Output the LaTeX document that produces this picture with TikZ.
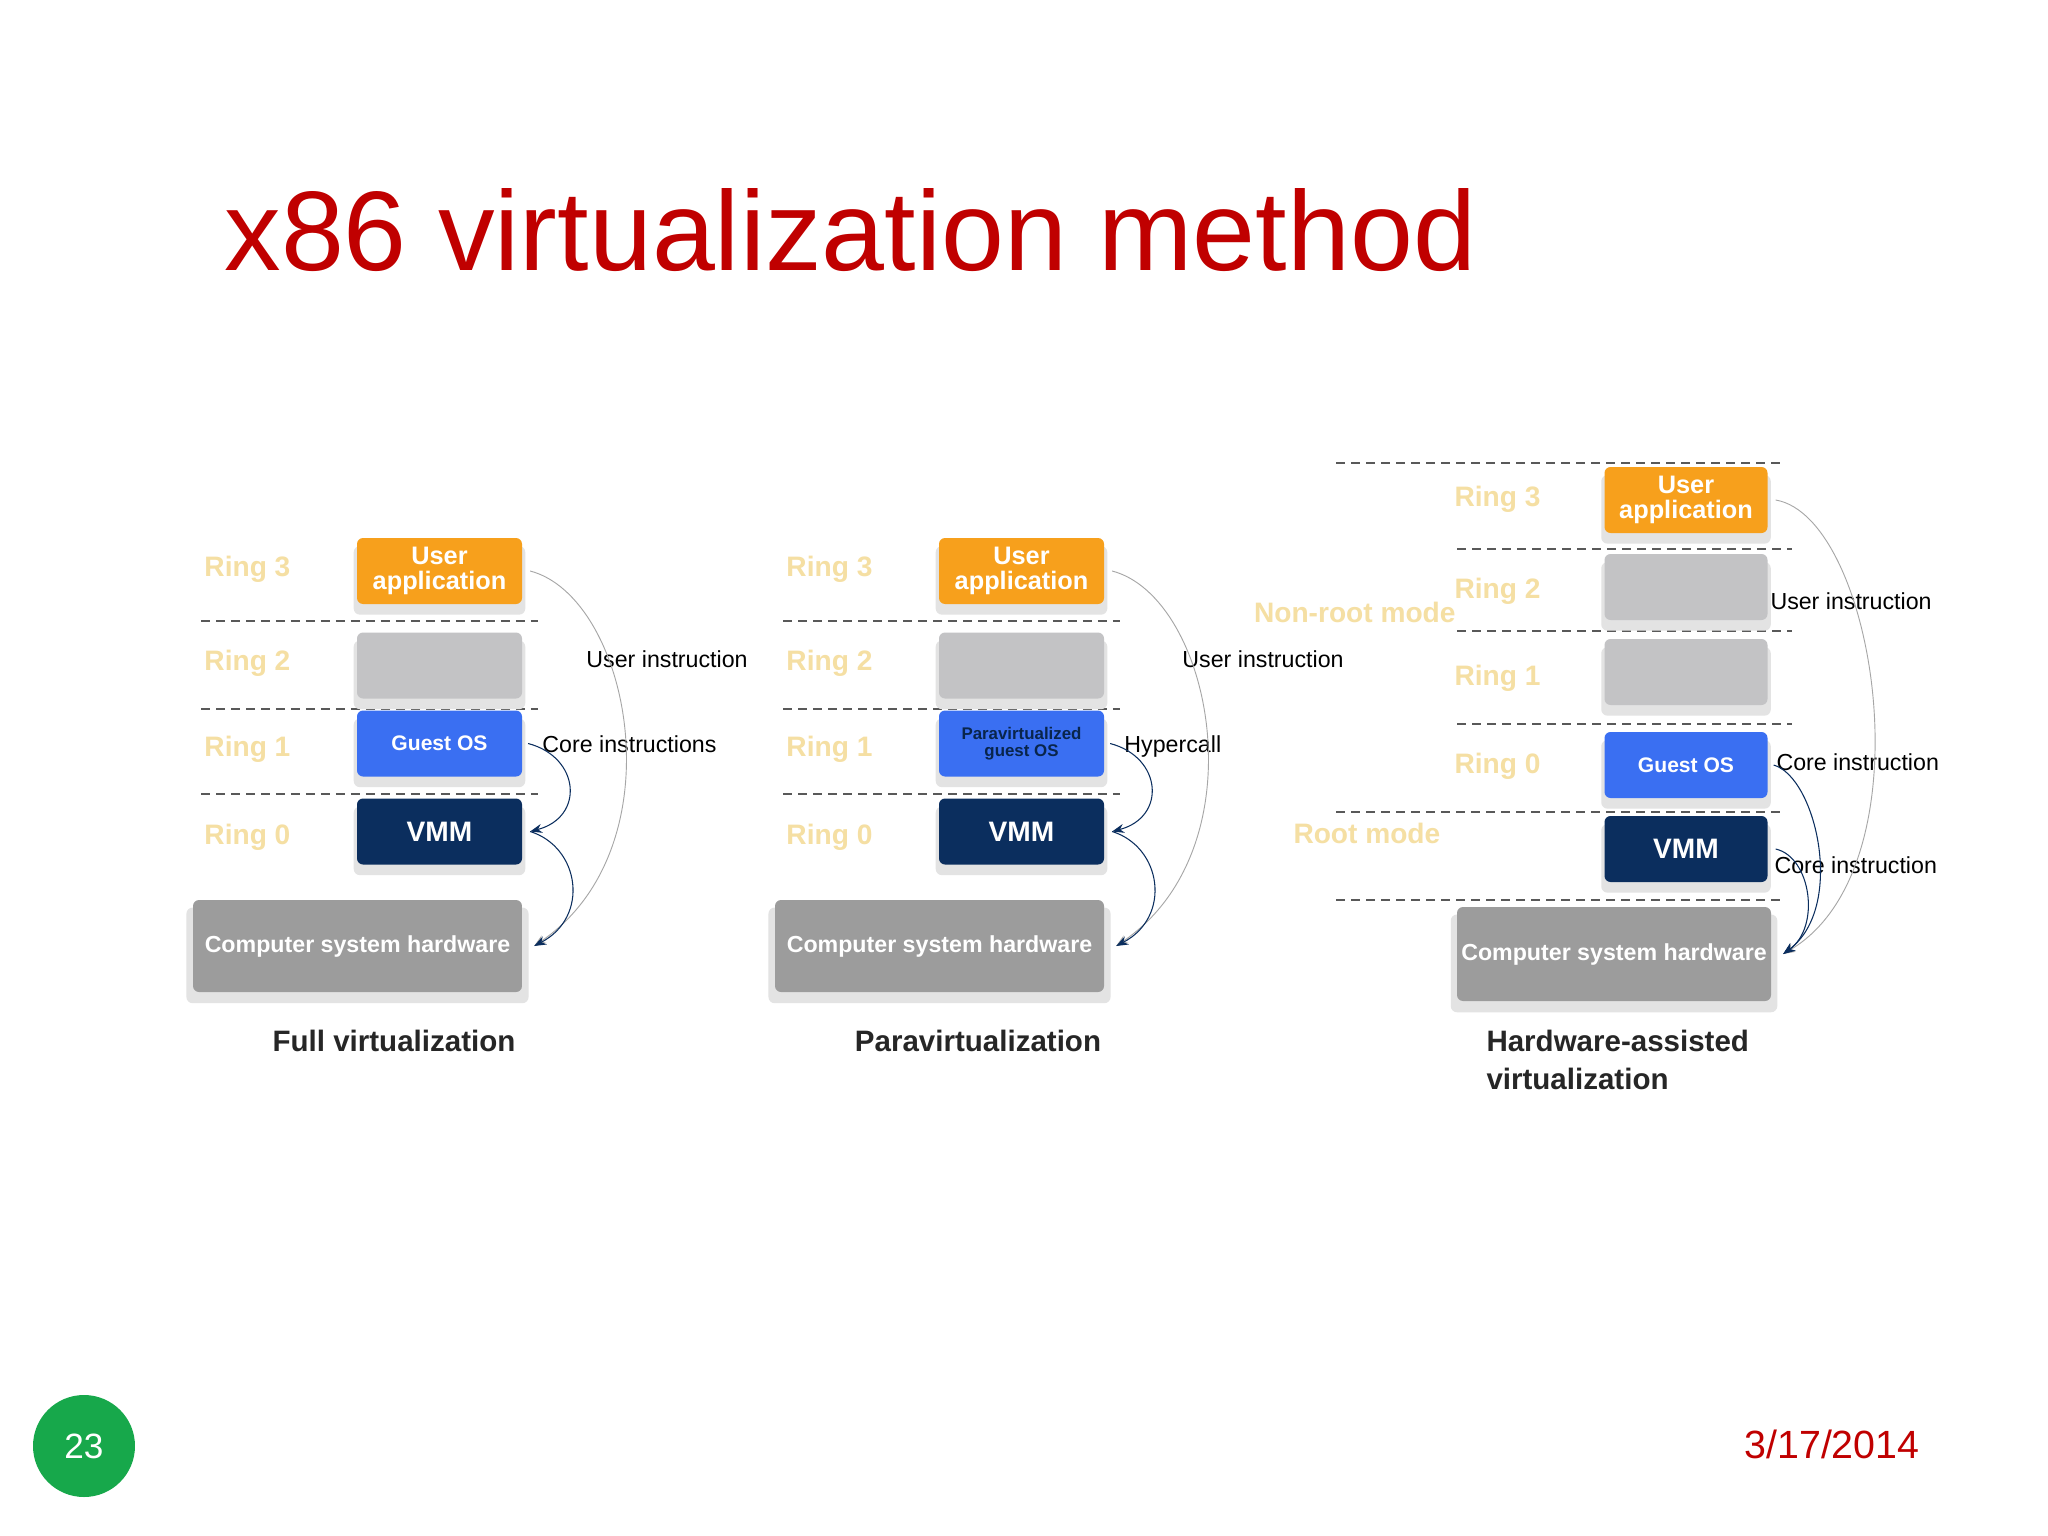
\documentclass[tikz,border=0pt]{standalone}
\usepackage{fontspec}
\setmainfont{Liberation Sans}
\usetikzlibrary{shadows,arrows.meta}
\newcommand{\fsz}[1]{\fontsize{#1pt}{#1pt}\selectfont}
\definecolor{ttl}{HTML}{C00000}
\definecolor{orng}{HTML}{F7A01C}
\definecolor{gbox}{HTML}{C3C3C5}
\definecolor{bbox}{HTML}{3A6FF2}
\definecolor{nbox}{HTML}{0B2E5E}
\definecolor{hbox}{HTML}{9C9C9C}
\definecolor{ringc}{HTML}{F5DFA3}
\definecolor{pgreen}{HTML}{17A84B}
\begin{document}
\begin{tikzpicture}[x=0.05cm,y=-0.05cm,
  layer/.style={rounded corners=0.3cm,inner sep=0,text=white,font=\fsz{36}\bfseries,align=center,
     general shadow={fill=gray!22,shadow yshift=-0.45cm,shadow scale=1.04,rounded corners=0.4cm}},
  small/.style={layer,minimum width=8.25cm,minimum height=3.3cm},
  smallb/.style={layer,minimum width=8.15cm,minimum height=3.3cm},
  ring/.style={anchor=west,text=ringc,font=\fsz{40}\bfseries},
  lbl/.style={anchor=west,font=\fsz{33}},
  captext/.style={font=\fsz{42}\bfseries,text=black!85},
  dsh/.style={gray!70!black,line width=1.6pt,dash pattern=on 0.45cm off 0.3cm},
  ucurve/.style={gray!70,line width=1.3pt,-{Stealth[length=0.6cm,width=0.45cm]}},
  ccurve/.style={nbox,line width=1.5pt,-{Stealth[length=0.6cm,width=0.45cm]}}]
\useasboundingbox (0,0) rectangle (2048,1536);
\fill[white] (0,0) rectangle (2048,1536);
\node[anchor=base west,text=ttl,font=\fsz{161}] (title) at (222,270) {x86 virtualization method};
% ---------- Full virtualization
\draw[dsh] (201,621) -- (538,621);
\draw[dsh] (201,709) -- (538,709);
\draw[dsh] (201,794) -- (538,794);
\node[small,fill=orng] (ua1) at (439.5,571) {User\\application};
\node[small,fill=gbox] (ra1) at (439.5,665.5) {};
\node[small,fill=bbox,font=\fsz{30}\bfseries] (go1) at (439.5,743.5) {Guest OS};
\node[small,fill=nbox,font=\fsz{40}\bfseries] (vm1) at (439.5,831.5) {VMM};
\node[layer,fill=hbox,minimum width=16.45cm,minimum height=4.6cm,font=\fsz{33}\bfseries] (hw1) at (357.5,946) {Computer system hardware};
\node[ring] (r31) at (202,569) {Ring 3};
\node[ring] (r21) at (202,663) {Ring 2};
\node[ring] (r11) at (202,749) {Ring 1};
\node[ring] (r01) at (202,837) {Ring 0};
\node[lbl] (ui1) at (584,659) {User instruction};
\node[lbl] (ci1) at (540,744) {Core instructions};
\node[captext] (c1) at (394,1041) {Full virtualization};
\draw[ucurve] ([xshift=0.4cm]ua1.east) .. controls (630,597) and (680,847) .. ([xshift=0.6cm]hw1.east);
\draw[ccurve] ([xshift=0.3cm]go1.east) .. controls (580,757) and (585,817) .. ([xshift=0.4cm]vm1.east);
\draw[ccurve] ([xshift=0.4cm]vm1.east) .. controls (580,847) and (590,917) .. ([xshift=0.6cm]hw1.east);
% ---------- Paravirtualization
\draw[dsh] (783,621) -- (1120,621);
\draw[dsh] (783,709) -- (1120,709);
\draw[dsh] (783,794) -- (1120,794);
\node[small,fill=orng] (ua2) at (1021.5,571) {User\\application};
\node[small,fill=gbox] (ra2) at (1021.5,665.5) {};
\node[small,fill=bbox,text=nbox!80!black,font=\fsz{24}\bfseries] (go2) at (1021.5,743.5) {Paravirtualized\\guest OS};
\node[small,fill=nbox,font=\fsz{40}\bfseries] (vm2) at (1021.5,831.5) {VMM};
\node[layer,fill=hbox,minimum width=16.45cm,minimum height=4.6cm,font=\fsz{33}\bfseries] (hw2) at (939.5,946) {Computer system hardware};
\node[ring] (r32) at (784,569) {Ring 3};
\node[ring] (r22) at (784,663) {Ring 2};
\node[ring] (r12) at (784,749) {Ring 1};
\node[ring] (r02) at (784,837) {Ring 0};
\node[lbl] (ui2) at (1180,659) {User instruction};
\node[lbl] (hc2) at (1122,746) {Hypercall};
\node[captext] (c2) at (978,1041) {Paravirtualization};
\draw[ucurve] ([xshift=0.4cm]ua2.east) .. controls (1212,597) and (1262,847) .. ([xshift=0.6cm]hw2.east);
\draw[ccurve] ([xshift=0.3cm]go2.east) .. controls (1162,757) and (1167,817) .. ([xshift=0.4cm]vm2.east);
\draw[ccurve] ([xshift=0.4cm]vm2.east) .. controls (1162,847) and (1172,917) .. ([xshift=0.6cm]hw2.east);
% ---------- Hardware-assisted
\draw[dsh] (1336,463) -- (1785,463);
\draw[dsh] (1457,549) -- (1792,549);
\draw[dsh] (1457,631) -- (1792,631);
\draw[dsh] (1457,724) -- (1792,724);
\draw[dsh] (1336,812) -- (1785,812);
\draw[dsh] (1336,900) -- (1785,900);
\node[smallb,fill=orng] (ua3) at (1686,500) {User\\application};
\node[smallb,fill=gbox] (ga3) at (1686,587) {};
\node[smallb,fill=gbox] (gb3) at (1686,672) {};
\node[smallb,fill=bbox,font=\fsz{30}\bfseries] (go3) at (1686,765) {Guest OS};
\node[smallb,fill=nbox,font=\fsz{40}\bfseries] (vm3) at (1686,849) {VMM};
\node[layer,fill=hbox,minimum width=15.7cm,minimum height=4.7cm,font=\fsz{33}\bfseries] (hw3) at (1614,954) {Computer system hardware};
\node[ring] (r33) at (1452,499) {Ring 3};
\node[ring] (r23) at (1452,591) {Ring 2};
\node[ring] (r13) at (1452,678) {Ring 1};
\node[ring] (r03) at (1452,766) {Ring 0};
\node[ring,anchor=east] (nr3) at (1458,612) {Non-root mode};
\node[ring] (rm3) at (1291,833) {Root mode};
\node[lbl] (ui3) at (1768,601) {User instruction};
\node[lbl] (ci3) at (1774,762) {Core instruction};
\node[lbl] (cj3) at (1772,865) {Core instruction};
\node[captext,anchor=west,align=left,font=\fontsize{42pt}{53pt}\selectfont\bfseries] (c3) at (1484,1060) {Hardware-assisted\\virtualization};
\draw[ucurve] ([xshift=0.4cm]ua3.east) .. controls (1876,517) and (1931,867) .. ([xshift=0.6cm]hw3.east);
\draw[ccurve] ([xshift=0.3cm]go3.east) .. controls (1816,777) and (1846,907) .. ([xshift=0.6cm]hw3.east);
\draw[ccurve] ([xshift=0.4cm]vm3.east) .. controls (1811,857) and (1821,927) .. ([xshift=0.6cm]hw3.east);
% ---------- footer
\node[circle,fill=pgreen,minimum size=5.1cm,inner sep=0,text=white,font=\fsz{50}] (pg) at (84,1446) {23};
\node[anchor=base east,text=ttl,font=\fsz{56}] (dt) at (1922,1458) {3/17/2014};
\end{tikzpicture}
\end{document}
